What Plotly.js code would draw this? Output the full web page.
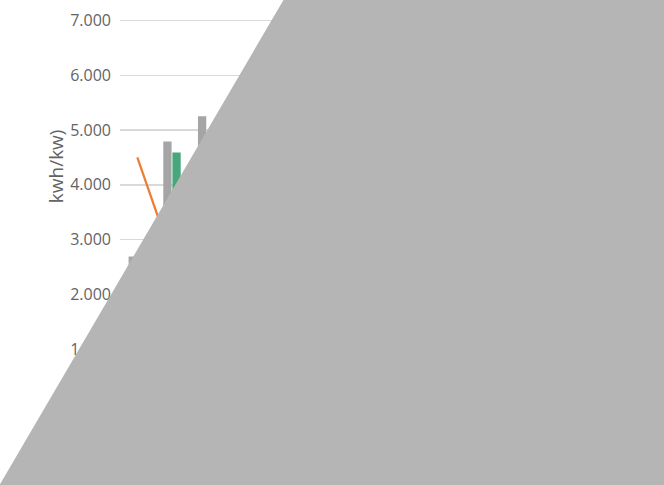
<!DOCTYPE html>
<html>
<head>
<meta charset="utf-8">
<script src="https://cdn.plot.ly/plotly-3.0.1.min.js"></script>
<style>html,body{margin:0;padding:0;background:#fff;}#chart{width:664px;height:485px;}</style>
</head>
<body>
<div id="chart"></div>
<script>
const categories = ['1','2','3','4','5','6','7','8','9','10','11','12'];
const graySeries = [2690, 4790, 5250, null, null, null, null, null, null, null, null, null];
const greenSeries = [null, 4590, null, null, null, null, null, null, null, null, null, null];
const orangeSeries = [4500, 2680, null, null, null, null, null, null, null, null, null, null];
const yTicks = [0, 1000, 2000, 3000, 4000, 5000, 6000, 7000];
const yTitle = 'kwh/kw)';

const W = 664, H = 485;
const M = {l: 120, r: 128, t: 14.5, b: 80.7};
const pw = W - M.l - M.r, ph = H - M.t - M.b;
function px(x){ return (x - M.l) / pw; }
function py(y){ return (H - M.b - y) / ph; }

// Grey covering polygon (pixel corners of the occluding shape)
const cover = [[-6, 495], [289, -10], [680, -10], [680, 495]];
const coverPath = cover.map((p, i) => (i ? 'L' : 'M') + px(p[0]).toFixed(4) + ',' + py(p[1]).toFixed(4)).join(' ') + ' Z';

const traces = [
  {type: 'bar', x: categories, y: graySeries, marker: {color: '#a5a5a5'}, name: 'A'},
  {type: 'bar', x: categories, y: greenSeries, marker: {color: '#47a67c'}, name: 'B'},
  {type: 'scatter', mode: 'lines', x: categories, y: orangeSeries, line: {color: '#ed7d31', width: 2.25}, name: 'C'}
];

const layout = {
  width: W, height: H,
  margin: M,
  paper_bgcolor: '#fff', plot_bgcolor: '#fff',
  separators: ',.',
  showlegend: false,
  barmode: 'group', bargap: 0.473, bargroupgap: 0.093,
  font: {family: '"Open Sans", sans-serif', size: 16, color: '#636363'},
  xaxis: {type: 'category', showgrid: false, zeroline: false, showline: true, linecolor: '#d9d9d9', ticks: ''},
  yaxis: {range: [0, 7100], tickvals: yTicks, tickformat: ',.0f', showgrid: true, gridcolor: '#d9d9d9', gridwidth: 1.3,
          zeroline: false, showline: false, ticks: '', ticklabelstandoff: 8},
  annotations: [{text: yTitle, xref: 'paper', yref: 'paper', x: px(56), y: py(166), xanchor: 'center', yanchor: 'middle',
                 textangle: -90, showarrow: false, font: {family: '"Open Sans", sans-serif', size: 19, color: '#636363'}}],
  shapes: [{type: 'path', xref: 'paper', yref: 'paper', path: coverPath, fillcolor: '#b5b5b5', line: {width: 0}, layer: 'above'}]
};

Plotly.newPlot('chart', traces, layout, {displayModeBar: false, staticPlot: true});
</script>
</body>
</html>
